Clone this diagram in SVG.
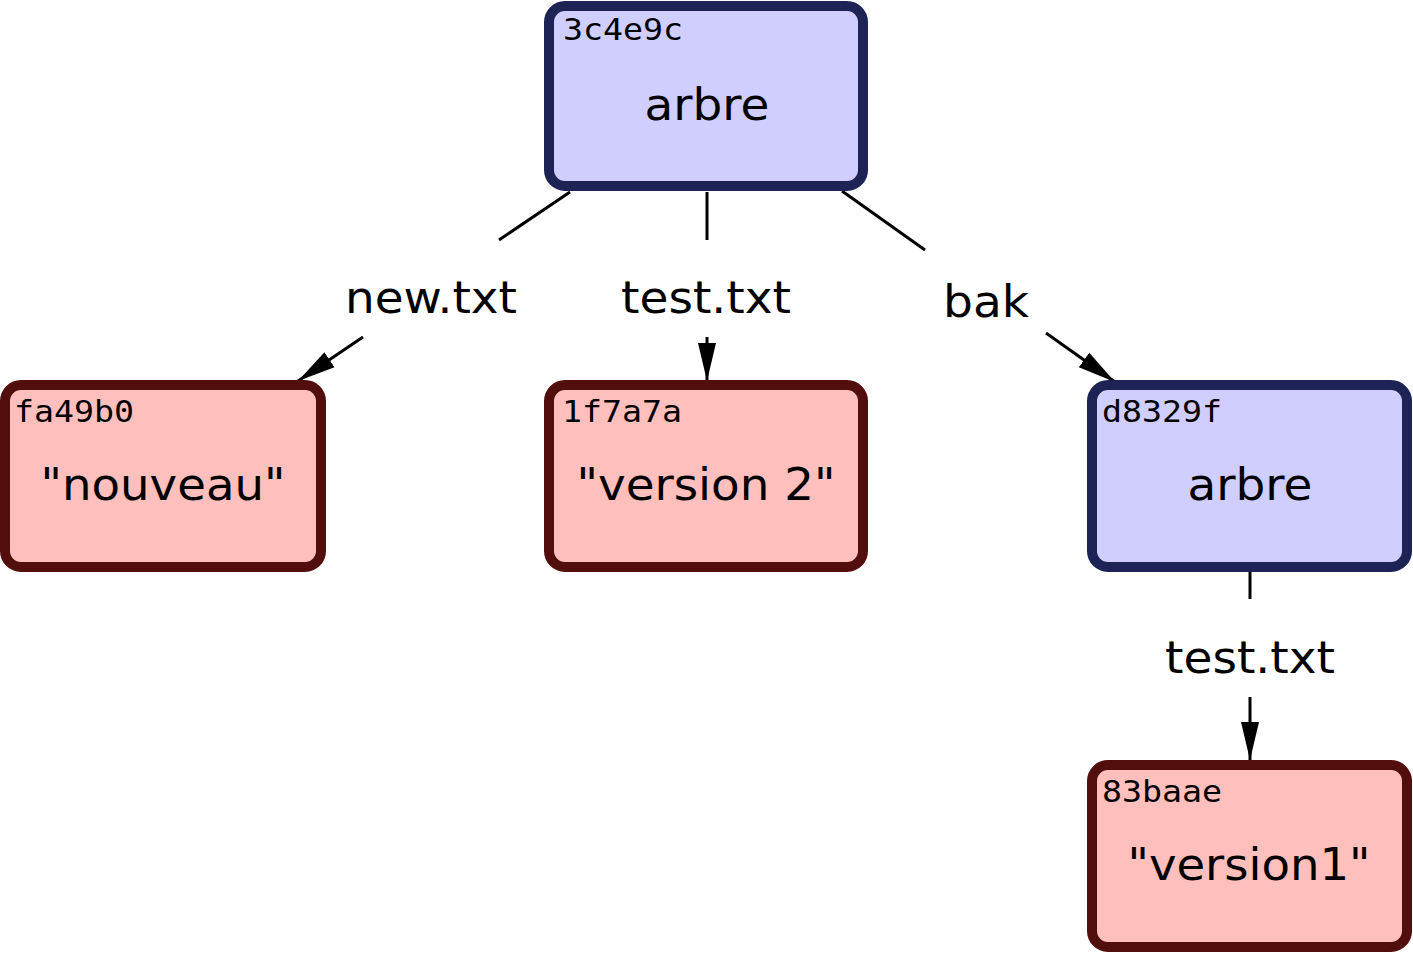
<svg xmlns="http://www.w3.org/2000/svg" width="1413" height="953" viewBox="0 0 1413 953">
<style>
.tree{fill:#d0ceff;stroke:#1d2455;stroke-width:10}
.blob{fill:#ffbfbd;stroke:#520d0d;stroke-width:10}
.hash{font-family:"DejaVu Sans Mono","Liberation Mono",monospace;font-size:30px;fill:#000}
.main{font-family:"DejaVu Sans","Liberation Sans",sans-serif;font-size:44px;fill:#000;text-anchor:middle}
.lbl{font-family:"DejaVu Sans","Liberation Sans",sans-serif;font-size:44px;fill:#000;text-anchor:middle}
.edge{stroke:#000;stroke-width:3;fill:none}
</style>
<defs>
<marker id="arr" markerUnits="userSpaceOnUse" markerWidth="40" markerHeight="24" viewBox="0 0 40 24" refX="38" refY="12" orient="auto">
<path d="M0,3 L38,12 L0,21 Z" fill="#000"/>
</marker>
</defs>
<g id="connectors">
<line class="edge" x1="570" y1="192" x2="499" y2="240"/>
<line class="edge" x1="363" y1="337" x2="298" y2="381" marker-end="url(#arr)"/>
<line class="edge" x1="707" y1="192" x2="707" y2="240"/>
<line class="edge" x1="707" y1="337" x2="707" y2="381" marker-end="url(#arr)"/>
<line class="edge" x1="842" y1="191" x2="925" y2="250"/>
<line class="edge" x1="1046" y1="333" x2="1115" y2="382" marker-end="url(#arr)"/>
<line class="edge" x1="1250" y1="572" x2="1250" y2="599"/>
<line class="edge" x1="1250" y1="697" x2="1250" y2="760" marker-end="url(#arr)"/>
<text class="lbl" x="431" y="313" textLength="172" lengthAdjust="spacingAndGlyphs">new.txt</text>
<text class="lbl" x="706" y="313" textLength="170" lengthAdjust="spacingAndGlyphs">test.txt</text>
<text class="lbl" x="986" y="317" textLength="86" lengthAdjust="spacingAndGlyphs">bak</text>
<text class="lbl" x="1250" y="673" textLength="170" lengthAdjust="spacingAndGlyphs">test.txt</text>
</g>
<g id="node-3c4e9c">
<rect class="tree" x="549" y="6" width="314" height="180" rx="16"/>
<text class="hash" x="563" y="40" textLength="120" lengthAdjust="spacingAndGlyphs">3c4e9c</text>
<text class="main" x="707" y="120" textLength="125" lengthAdjust="spacingAndGlyphs">arbre</text>
</g>
<g id="node-fa49b0">
<rect class="blob" x="5" y="385" width="316" height="182" rx="16"/>
<text class="hash" x="14" y="422" textLength="120" lengthAdjust="spacingAndGlyphs">fa49b0</text>
<text class="main" x="163" y="500" textLength="245" lengthAdjust="spacingAndGlyphs">"nouveau"</text>
</g>
<g id="node-1f7a7a">
<rect class="blob" x="549" y="385" width="314" height="182" rx="16"/>
<text class="hash" x="562" y="422" textLength="120" lengthAdjust="spacingAndGlyphs">1f7a7a</text>
<text class="main" x="706" y="500" textLength="259" lengthAdjust="spacingAndGlyphs">"version 2"</text>
</g>
<g id="node-d8329f">
<rect class="tree" x="1092" y="385" width="315" height="182" rx="16"/>
<text class="hash" x="1102" y="422" textLength="120" lengthAdjust="spacingAndGlyphs">d8329f</text>
<text class="main" x="1250" y="500" textLength="125" lengthAdjust="spacingAndGlyphs">arbre</text>
</g>
<g id="node-83baae">
<rect class="blob" x="1092" y="765" width="315" height="182" rx="16"/>
<text class="hash" x="1102" y="802" textLength="120" lengthAdjust="spacingAndGlyphs">83baae</text>
<text class="main" x="1249" y="880" textLength="243" lengthAdjust="spacingAndGlyphs">"version1"</text>
</g>
</svg>
